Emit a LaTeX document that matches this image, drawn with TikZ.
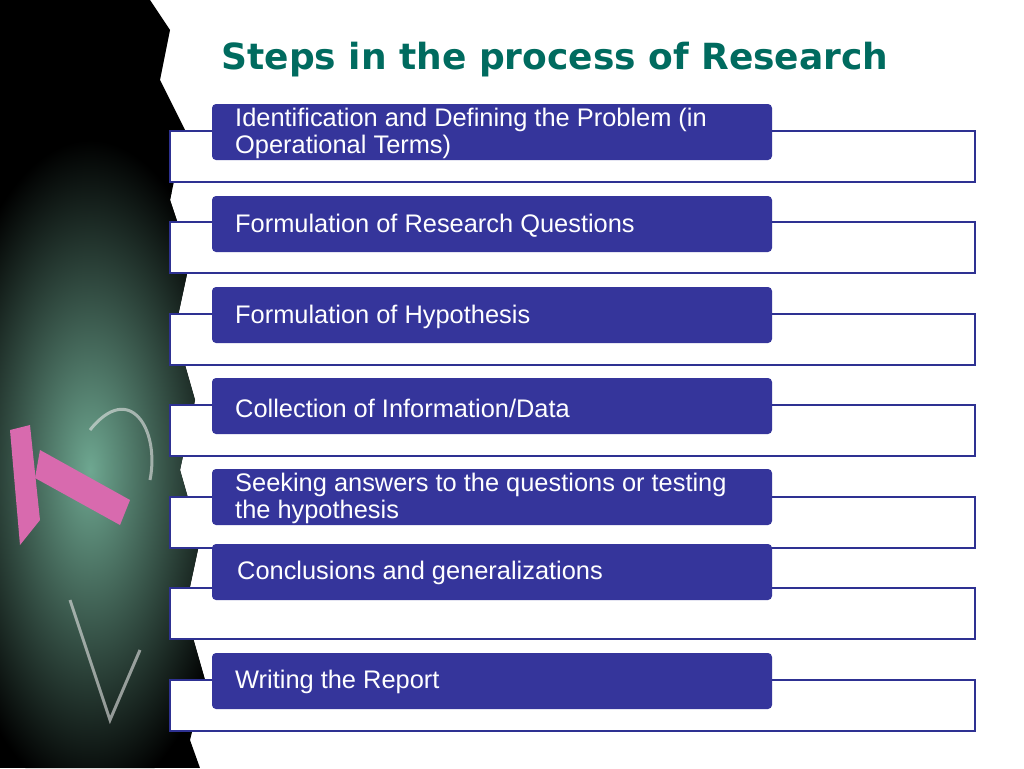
\documentclass[tikz,border=0pt]{standalone}
\usepackage{fontspec}
\setmainfont{Liberation Sans}
\newfontfamily\titlefont{DejaVu Sans}
\definecolor{stepblue}{HTML}{35359B}
\definecolor{lineblue}{HTML}{2E3192}
\definecolor{titleteal}{HTML}{006B5F}
\definecolor{chalkgreen}{HTML}{3E8A6C}
\definecolor{chalkpink}{HTML}{D86AAE}
\tikzset{
  outline/.style={draw=lineblue, line width=1.8pt, fill=white},
  steptext/.style={text=white, font=\fontsize{25.4}{27}\selectfont, anchor=west, align=left, inner sep=0pt}
}
\begin{document}
\begin{tikzpicture}[x=1pt,y=-1pt]
\useasboundingbox (0,0) rectangle (1024,768);
\fill[white] (0,0) rectangle (1024,768);
% chalkboard strip
\begin{scope}
\clip (0,0) -- (150,0) -- (170,30) -- (160,80) -- (185,130) -- (170,200) -- (190,260) -- (175,330) -- (195,400) -- (180,470) -- (200,540) -- (185,610) -- (205,680) -- (190,740) -- (200,768) -- (0,768) -- cycle;
\fill[black] (0,0) rectangle (210,768);
\shade[inner color=chalkgreen!75!white, outer color=black] (90,470) ellipse (150 and 330);
\end{scope}
\fill[chalkpink] (10,430) -- (30,425) -- (40,520) -- (20,545) -- cycle;
\fill[chalkpink] (40,450) -- (130,500) -- (120,525) -- (35,478) -- cycle;
\draw[white!80!gray, line width=3pt, opacity=0.6] (90,430) .. controls (130,380) and (160,430) .. (150,480);
\draw[white!80!gray, line width=3pt, opacity=0.6] (70,600) -- (110,720) -- (140,650);
% title
\node[font=\titlefont\bfseries\fontsize{36}{40}\selectfont, text=titleteal] (title) at (555,60) {Steps in the process of Research};
% rows
\foreach \i/\bt/\ot in {1/104/131, 2/196/222, 3/287/314, 4/378/405, 5/469/497, 6/544/588, 7/653/680}{
  \draw[outline] (170,\ot) rectangle (975,\ot+51);
  \fill[stepblue, rounded corners=4pt] (212,\bt) rectangle (772,\bt+56);
  \coordinate (t\i) at (235,\bt+28);
}
\node[steptext] (s1) at ([yshift=-1]t1) {Identification and Defining the Problem (in\\Operational Terms)};
\node[steptext] (s2) at ([yshift=-2]t2) {Formulation of Research Questions};
\node[steptext] (s3) at ([yshift=-2]t3) {Formulation of Hypothesis};
\node[steptext] (s4) at ([yshift=-2]t4) {Collection of Information/Data};
\node[steptext] (s5) at ([yshift=-1]t5) {Seeking answers to the questions or testing\\the hypothesis};
\node[steptext] (s6) at ([xshift=2,yshift=-1]t6) {Conclusions and generalizations};
\node[steptext] (s7) at ([yshift=-1]t7) {Writing the Report};
\end{tikzpicture}
\end{document}
